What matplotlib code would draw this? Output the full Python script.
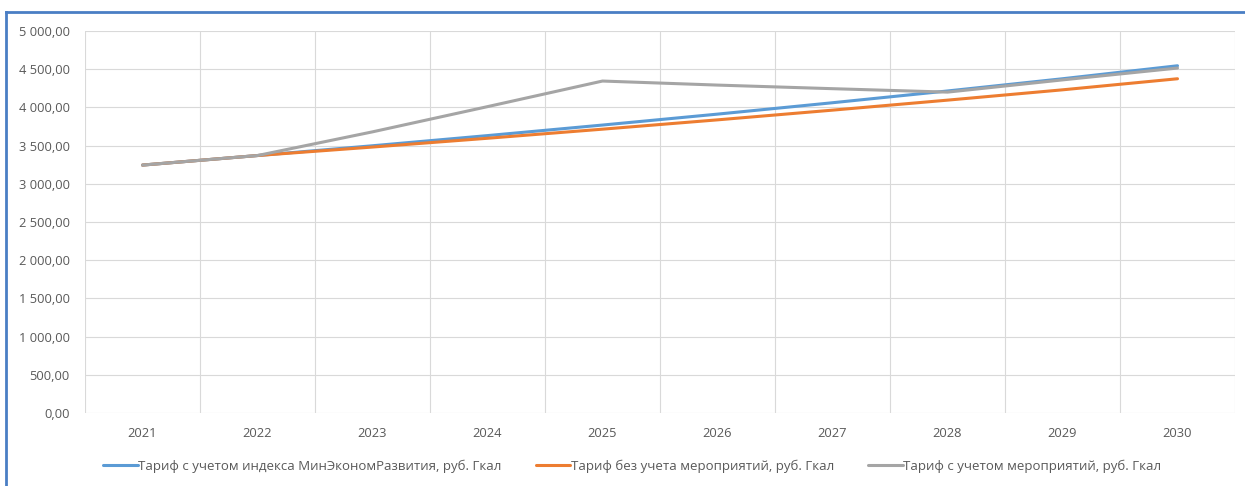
import matplotlib
matplotlib.use('Agg')
import matplotlib.pyplot as plt
from matplotlib.lines import Line2D
from matplotlib.ticker import FuncFormatter, MultipleLocator

years = ['2021', '2022', '2023', '2024', '2025', '2026', '2027', '2028', '2029', '2030']

tariff_index = [3245, 3370, 3498, 3631, 3769, 3912, 4061, 4215, 4375, 4545]
tariff_no_measures = [3245, 3370, 3481, 3596, 3715, 3837, 3964, 4095, 4230, 4375]
tariff_measures = [3245, 3370, 3680, 4010, 4345, 4292, 4245, 4200, 4360, 4515]

labels = ['Тариф с учетом индекса МинЭкономРазвития, руб. Гкал',
          'Тариф без учета мероприятий, руб. Гкал',
          'Тариф с учетом мероприятий, руб. Гкал']
colors = ['#5B9BD5', '#ED7D31', '#A5A5A5']

plt.rcParams['font.family'] = ['Open Sans', 'DejaVu Sans']

fig = plt.figure(figsize=(12.45, 4.86), dpi=100)
ax = fig.add_axes([85 / 1245, 1 - 413 / 486, 1150 / 1245, 382 / 486])

x = list(range(len(years)))
for vals, c, lab in zip([tariff_index, tariff_no_measures, tariff_measures], colors, labels):
    ax.plot(x, vals, color=c, lw=2.2, label=lab, solid_capstyle='round')

ax.set_xlim(-0.5, len(years) - 0.5)
ax.set_ylim(0, 5000)
ax.yaxis.set_major_locator(MultipleLocator(500))
ax.yaxis.set_major_formatter(FuncFormatter(
    lambda v, p: f'{v:,.2f}'.replace(',', ' ').replace('.', ',')))
ax.set_xticks(x)
ax.set_xticklabels(years)
ax.set_xticks([i - 0.5 for i in range(len(years) + 1)], minor=True)

ax.grid(True, axis='y', which='major', color='#D9D9D9', lw=0.8)
ax.grid(True, axis='x', which='minor', color='#D9D9D9', lw=0.8)
ax.set_axisbelow(True)
for s in ax.spines.values():
    s.set_visible(False)
ax.tick_params(which='both', length=0, colors='#595959', labelsize=9.3)
ax.tick_params(axis='x', pad=10)
ax.tick_params(axis='y', pad=11)

fig.legend(loc='center', bbox_to_anchor=(0.508, 1 - 466 / 486), ncol=3,
           frameon=False, fontsize=9.5, handlelength=2.6, handletextpad=0.05,
           columnspacing=2.6, labelcolor='#595959')

# blue frame of the embedded picture (left and top edges)
fig.add_artist(Line2D([6 / 1245, 6 / 1245], [0, 1 - 12 / 486], color='#4A7EC4',
                      lw=2, transform=fig.transFigure))
fig.add_artist(Line2D([6 / 1245, 1], [1 - 12 / 486, 1 - 12 / 486], color='#4A7EC4',
                      lw=2, transform=fig.transFigure))

fig.savefig('out.png', dpi=100)
